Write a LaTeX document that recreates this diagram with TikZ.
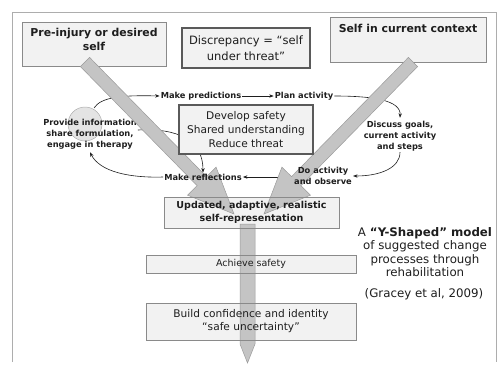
\documentclass[tikz,border=0pt]{standalone}
\usepackage{fontspec}
\setmainfont{DejaVu Sans}
\usetikzlibrary{calc,arrows.meta}
\pgfdeclarelayer{bg}
\pgfdeclarelayer{mid}
\pgfsetlayers{bg,mid,main}
\definecolor{boxfill}{HTML}{F2F2F2}
\definecolor{boxline}{HTML}{8A8A8A}
\definecolor{darkline}{HTML}{5A5A5A}
\definecolor{fatfill}{HTML}{C4C4C4}
\definecolor{fatline}{HTML}{9A9A9A}
\definecolor{ink}{HTML}{1E1E1E}
\definecolor{blob}{HTML}{E4E4E4}

\begin{document}
\begin{tikzpicture}[x=1pt,y=-1pt,
  frameline/.style={draw=boxline!70, line width=0.5pt},
  panel/.style={draw=boxline, line width=0.6pt, inner sep=0pt, align=center, text=ink},
  heavypanel/.style={draw=darkline, line width=1.3pt, fill=boxfill, inner sep=0pt, align=center, text=ink},
  cue/.style={font=\fontsize{8.3}{11}\selectfont\bfseries, align=center, text=ink, inner sep=1pt},
  headline/.style={font=\fontsize{10.9}{14}\selectfont\bfseries, align=center, text=ink, inner sep=0pt},
  link/.style={draw=ink, line width=0.6pt, -{Stealth[length=4.5pt,width=3.4pt]}},
  fat/.style={fill=fatfill, draw=fatline, line width=0.5pt},
  caption/.style={font=\fontsize{11.8}{13.5}\selectfont, align=center, text=ink, inner sep=0pt}]

\useasboundingbox (0,0) rectangle (498,365);

% slide frame
\draw[frameline] (12,362) -- (12,12) -- (496.5,12) -- (496.5,362);

% top boxes (fill below the fat arrows)
\begin{pgfonlayer}{bg}
  \node[panel, fill=boxfill, minimum width=144pt, minimum height=44pt] (pre) at (94,44) {};
  \node[panel, fill=boxfill, minimum width=156pt, minimum height=45pt] (self) at (408,39.5) {};
\end{pgfonlayer}
\node[headline] (pret) at (94,39) {Pre-injury or desired\\self};
\node[headline] (selft) at (408,28) {Self in current context};
\node[heavypanel, minimum width=128pt, minimum height=40pt,
      font=\fontsize{11.5}{16}\selectfont] (disc) at (246,48) {Discrepancy = “self\\under threat”};

% lower boxes: outline and text above the arrows
\node[panel, minimum width=175pt, minimum height=31pt,
      font=\fontsize{9.55}{13}\selectfont\bfseries] (upd) at (251.5,212.5)
      {Updated, adaptive, realistic\\self-representation};
\node[panel, minimum width=210pt, minimum height=18pt,
      font=\fontsize{9.5}{12}\selectfont] (ach) at (251,264) {Achieve safety};
\node[panel, minimum width=210pt, minimum height=37pt,
      font=\fontsize{10.6}{13}\selectfont] (bld) at (251,321.5)
      {Build confidence and identity\\“safe uncertainty”};

% cycle labels
\node[cue] (mp) at (201,96) {Make predictions};
\node[cue] (pa) at (304,96) {Plan activity};
\node[cue] (dg) at (400,136) {Discuss goals,\\current activity\\and steps};
\node[cue] (do) at (323,176) {Do activity\\and observe};
\node[cue] (mr) at (203,177) {Make reflections};

\begin{pgfonlayer}{bg}
  \fill[boxfill] (upd.south west) rectangle (upd.north east);
  \fill[boxfill] (ach.south west) rectangle (ach.north east);
  \fill[boxfill] (bld.south west) rectangle (bld.north east);
  % soft marker behind the first label
  \draw[fill=blob, draw=boxline!70, line width=0.5pt] (85,124) circle (17pt);
  \node[cue] (pi) at (90,134) {Provide information\\share formulation,\\engage in therapy};
  % cycle connectors
  \draw[link] (94,108) .. controls (101,97) and (122,95) .. (mp.west);
  \draw[link] (mp.east) -- (pa.west);
  \draw[link] (pa.east) .. controls (372,96) and (401,100) .. ([yshift=2pt]dg.north);
  \draw[link] (dg.south) .. controls (400,168) and (380,176) .. (do.east);
  \draw[link] (mr.east -| do.west) -- (mr.east);
  \draw[link] (mr.west) .. controls (130,178) and (100,172) .. ([yshift=-2pt]pi.south);
  \draw[link] ([yshift=4pt]pi.east) .. controls (178,128) and (203,140) .. (mr.north);
\end{pgfonlayer}

% the three fat arrows forming the Y
\begin{pgfonlayer}{mid}
  \coordinate (ls) at (85,62);
  \coordinate (lt) at (234,214);
  \coordinate (lb) at ($(lt)!46pt!(ls)$);
  \path[fat] ($(ls)!6.5pt!90:(lt)$) -- ($(lb)!6.5pt!90:(lt)$) -- ($(lb)!20pt!90:(lt)$)
    -- (lt) -- ($(lb)!20pt!-90:(lt)$) -- ($(lb)!6.5pt!-90:(lt)$) -- ($(ls)!6.5pt!-90:(lt)$) -- cycle;
  \coordinate (rs) at (413,62);
  \coordinate (rt) at (264,214);
  \coordinate (rb) at ($(rt)!46pt!(rs)$);
  \path[fat] ($(rs)!6.5pt!90:(rt)$) -- ($(rb)!6.5pt!90:(rt)$) -- ($(rb)!20pt!90:(rt)$)
    -- (rt) -- ($(rb)!20pt!-90:(rt)$) -- ($(rb)!6.5pt!-90:(rt)$) -- ($(rs)!6.5pt!-90:(rt)$) -- cycle;
  \path[fat] (240,224) -- (255,224) -- (255,344) -- (247.5,363) -- (240,344) -- cycle;
\end{pgfonlayer}

% central box sits above the arrows
\node[heavypanel, minimum width=134pt, minimum height=49pt,
      font=\fontsize{10.6}{14}\selectfont] (dev) at (246,129.5)
      {Develop safety\\Shared understanding\\Reduce threat};

% caption on the right
\node[caption] (ysh) at (425,252) {A \textbf{“Y-Shaped” model}\\of suggested change\\processes through\\rehabilitation};
\node[caption] (cite) at (424,294) {(Gracey et al, 2009)};
\end{tikzpicture}
\end{document}
